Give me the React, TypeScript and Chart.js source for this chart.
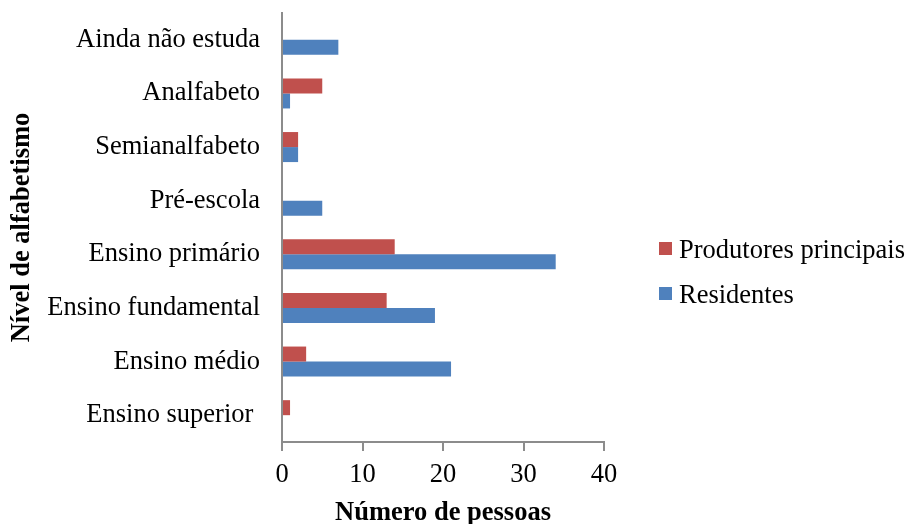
import React, { useEffect, useRef } from "react";
import { Chart, registerables } from "chart.js";

Chart.register(...registerables);

const categories = [
  "Ainda não estuda",
  "Analfabeto",
  "Semianalfabeto",
  "Pré-escola",
  "Ensino primário",
  "Ensino fundamental",
  "Ensino médio",
  "Ensino superior ",
];
const produtores = [0, 5, 2, 0, 14, 13, 3, 1];
const residentes = [7, 1, 2, 5, 34, 19, 21, 0];
const seriesNames = ["Produtores principais", "Residentes"];
const seriesColors = ["#C0504D", "#4F81BD"];
const xMin = 0;
const xMax = 40;
const xStep = 10;
const xTitle = "Número de pessoas";
const yTitle = "Nível de alfabetismo";

const FONT = "'Liberation Serif', 'Times New Roman', serif";
const AXIS = "#8c8c8c";

const sideLegend = {
  id: "sideLegend",
  afterDraw(chart: any) {
    const ctx = chart.ctx;
    const area = chart.chartArea;
    ctx.save();
    ctx.font = `26.5px ${FONT}`;
    ctx.textBaseline = "alphabetic";
    ctx.textAlign = "left";
    chart.data.datasets.forEach((ds: any, i: number) => {
      const bx = area.right + 55;
      const by = 242 + i * 45;
      ctx.fillStyle = ds.backgroundColor;
      ctx.fillRect(bx, by, 13, 13);
      ctx.fillStyle = "#000";
      ctx.fillText(ds.label, bx + 20, by + 16);
    });
    ctx.restore();
  },
};

export default function App() {
  const ref = useRef<HTMLCanvasElement>(null);
  useEffect(() => {
    if (!ref.current) return;
    const chart = new Chart(ref.current, {
      type: "bar",
      data: {
        labels: categories,
        datasets: [
          {
            label: seriesNames[0],
            data: produtores,
            backgroundColor: seriesColors[0],
            categoryPercentage: 0.56,
            barPercentage: 1,
          },
          {
            label: seriesNames[1],
            data: residentes,
            backgroundColor: seriesColors[1],
            categoryPercentage: 0.56,
            barPercentage: 1,
          },
        ],
      },
      options: {
        indexAxis: "y",
        animation: false,
        responsive: false,
        devicePixelRatio: 1,
        layout: { padding: { top: 13, right: 305, left: 0, bottom: 0 } },
        plugins: {
          legend: { display: false },
          tooltip: { enabled: false },
        },
        scales: {
          x: {
            min: xMin,
            max: xMax,
            afterFit: (s: any) => {
              s.height = 82;
            },
            ticks: {
              stepSize: xStep,
              color: "#000",
              font: { family: FONT, size: 26.5 },
              padding: 8,
            },
            grid: {
              display: true,
              drawOnChartArea: false,
              drawTicks: true,
              tickLength: 9,
              color: AXIS,
              lineWidth: 2,
            },
            border: { display: true, color: AXIS, width: 2 },
            title: {
              display: true,
              text: xTitle,
              color: "#000",
              font: { family: FONT, size: 26.5, weight: "bold", lineHeight: 0.85 },
              padding: { top: 0, bottom: 0 },
            },
          },
          y: {
            afterFit: (s: any) => {
              s.width = 282;
              s.paddingTop = 0;
              s.paddingBottom = 0;
            },
            ticks: {
              color: "#000",
              font: { family: FONT, size: 26.5 },
              padding: 22,
            },
            grid: {
              display: true,
              drawOnChartArea: false,
              drawTicks: false,
            },
            border: { display: true, color: AXIS, width: 2 },
            title: {
              display: true,
              text: yTitle,
              color: "#000",
              font: { family: FONT, size: 26.5, weight: "bold", lineHeight: 1.2 },
              padding: { top: 6, bottom: 0 },
            },
          },
        },
      } as any,
      plugins: [sideLegend],
    });
    return () => chart.destroy();
  }, []);
  return (
    <div style={{ position: "fixed", left: 0, top: 0, width: 909, height: 524, background: "#fff" }}>
      <canvas ref={ref} width={909} height={524} style={{ display: "block" }} />
    </div>
  );
}
